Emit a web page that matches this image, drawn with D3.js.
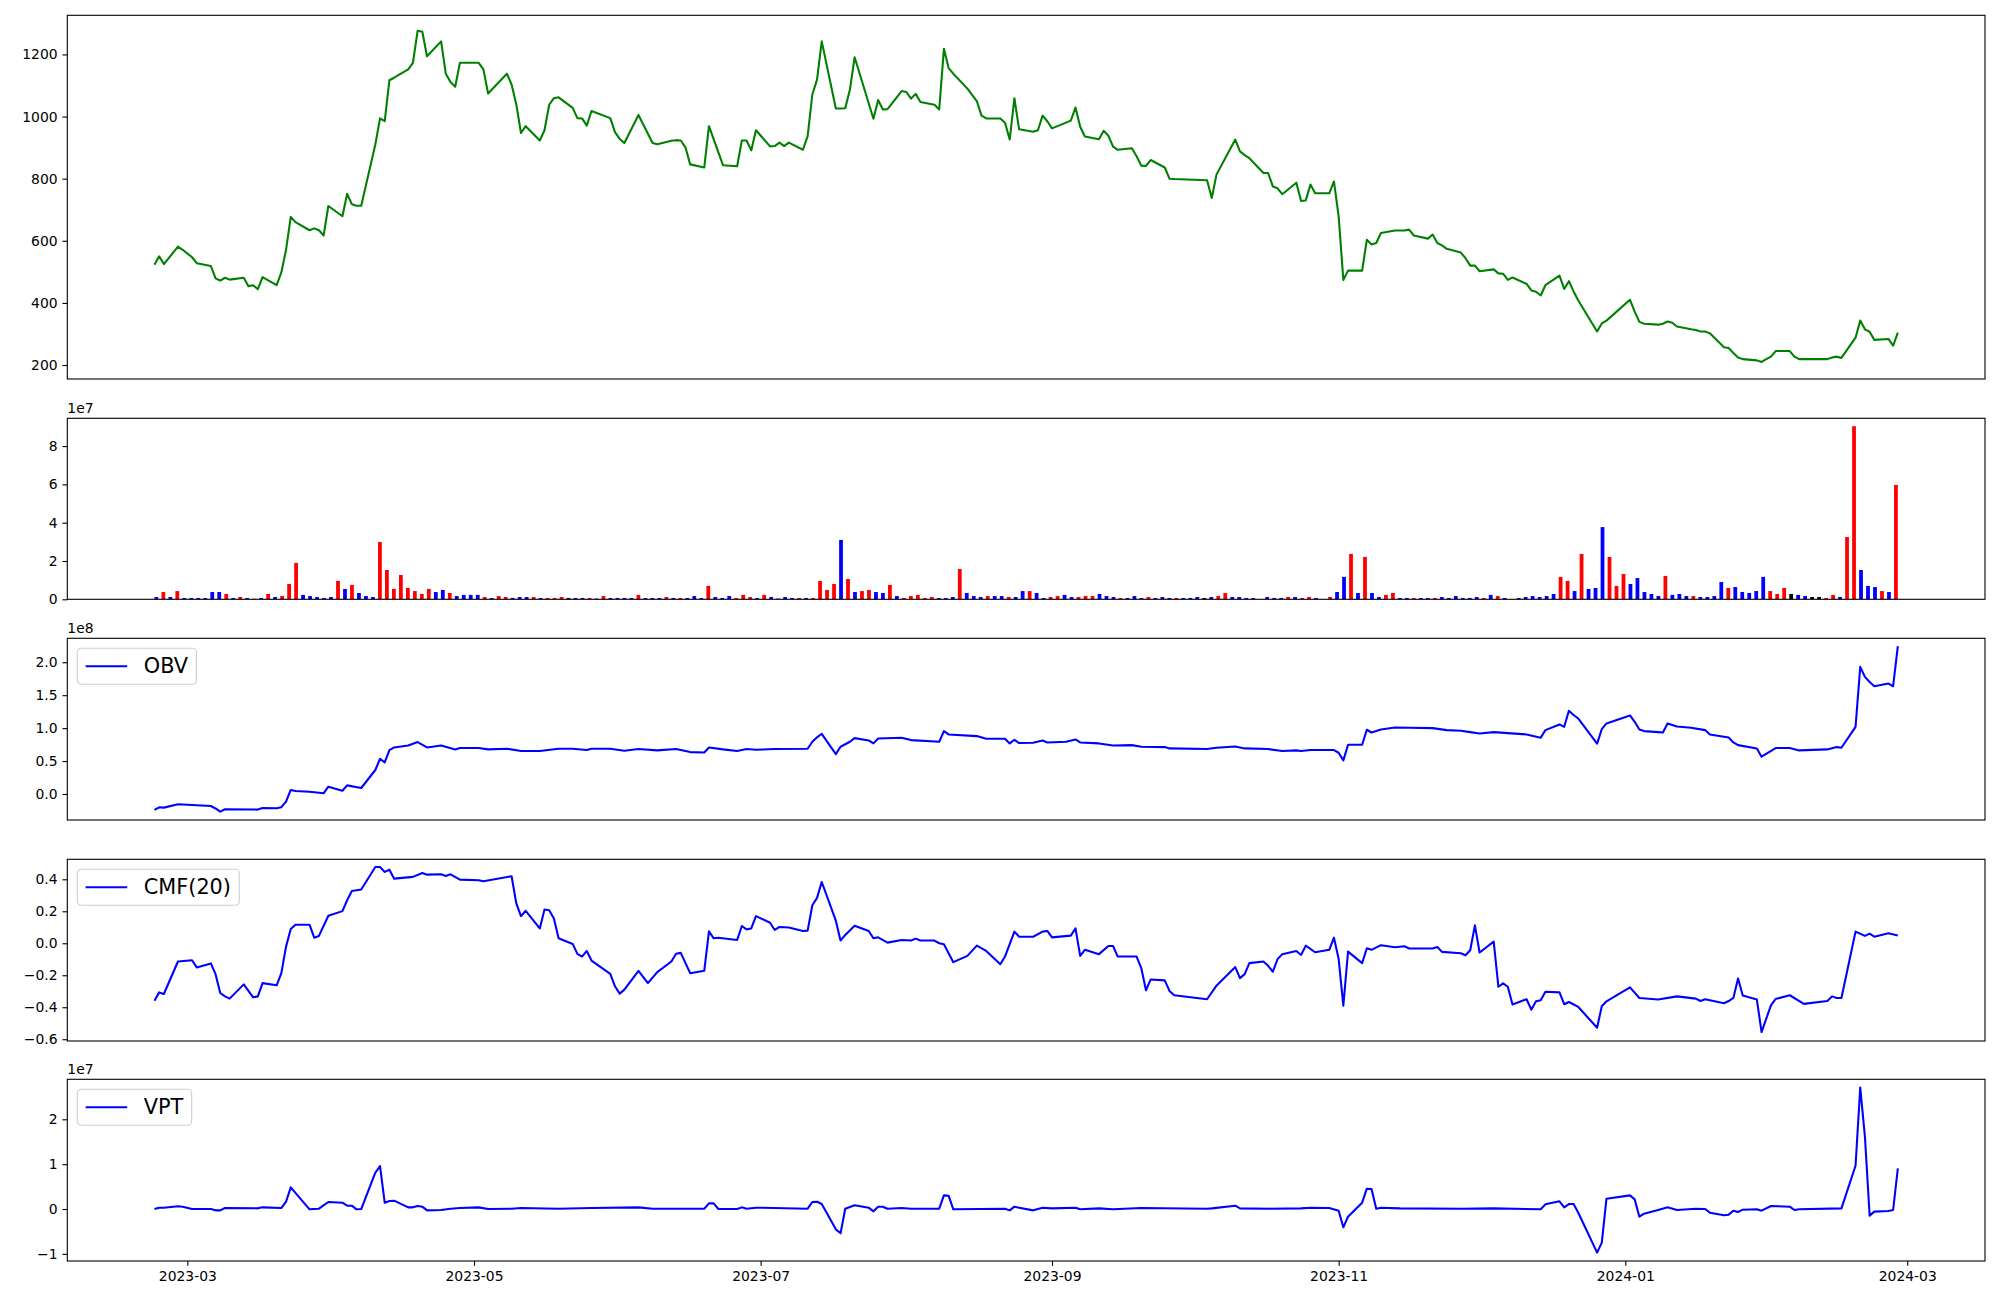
<!DOCTYPE html>
<html><head><meta charset="utf-8">
<script src="https://cdn.jsdelivr.net/npm/d3@7"></script>
<style>
body{margin:0;background:#fff}
text{font-family:"DejaVu Sans",sans-serif}
</style>
</head><body>
<svg id="chart" width="2000" height="1300"></svg>
<script>
// ---------------- DATA ----------------
const firstDay = "2023-02-22";
const lastDay = "2024-02-28";

// daily volume, in units of 1e7 (one value per trading session, in order; 250 sessions)
const volume = [
 .12,.38,.12,.43,.07,.07,.07,.07,.38,.38,
 .28,.07,.12,.07,.03,.07,.28,.12,.17,.8,
 1.9,.23,.17,.12,.07,.12,.96,.54,.75,.33,
 .17,.12,2.99,1.53,.54,1.27,.59,.43,.28,.54,
 .38,.49,.33,.17,.23,.23,.23,.12,.07,.17,
 .12,.07,.12,.12,.12,.07,.07,.07,.12,.07,
 .07,.07,.07,.04,.17,.07,.07,.07,.07,.23,
 .07,.07,.07,.12,.07,.07,.07,.17,.07,.7,
 .12,.07,.17,.07,.23,.12,.07,.23,.12,.04,
 .12,.07,.07,.07,.07,.96,.49,.8,3.1,1.06,
 .38,.43,.49,.38,.33,.75,.17,.07,.17,.23,
 .07,.12,.07,.07,.12,1.58,.33,.17,.12,.17,
 .17,.17,.12,.12,
 .43,.43,.33,.07,.12,.17,.23,.12,.12,.17,
 .17,.28,.17,.12,.07,.07,.17,.07,.12,.07,
 .12,.07,.07,.07,.07,.12,.07,.12,.17,.33,
 .12,.12,.07,.07,.01,
 .12,.07,.07,.12,.12,.07,.12,.07,.01,
 .12,.38,1.17,2.37,.33,2.21,.33,.12,
 .23,.33,.07,.07,.07,.07,.07,.07,.12,.07,
 .17,.07,.07,.12,.07,.23,.17,.07,.01,
 .07,.12,
 .17,.12,.17,.28,1.17,.96,.43,2.37,.54,.59,
 3.77,2.21,.7,1.32,.8,1.11,.38,.28,.17,1.22,
 .23,.28,.17,.17,.12,.12,.17,.9,.59,.64,
 .38,.33,.43,1.17,.43,.28,.59,.28,.23,.17,
 .12,.12,.07,.23,.12,3.25,9.04,1.53,.7,.64,
 .43,.38,5.97
];
// r = close up, b = close down, k = unchanged
const volumeDir = (
 "brbrbbbbbb"+"rbrbrbrbrr"+"rbbbbbrbrb"+"bbrrrrrrrr"+"bbrbbbbrbr"+
 "rbbbrbrrrk"+"bbrbrbbbbr"+"bbbrbrbbbr"+"bbbrrrbrbb"+"bbrbrrrrbr"+
 "brrbbrbrrr"+"rrbbbrbbbr"+"bbrb"+
 "brbbrrbbrr"+"rbbbrbbbrb"+"bbrbbbkbrr"+"bbbbb"+
 "bbbrbrrbb"+
 "rbbrbrbb"+"rrbbrbbrbb"+"bbbbrbrbb"+
 "bb"+"bbbbrrbrbb"+"brrrbbbbbr"+"bbbrbbbbrb"+"bbbbrrrkbb"+"kkrrbrrbbb"+"rbr").split("");

// close price
const price = [
["2023-02-22",523],["2023-02-23",550],["2023-02-24",525],["2023-02-27",581],["2023-02-28",571],
["2023-03-02",547],["2023-03-03",528],["2023-03-06",519],["2023-03-07",479],["2023-03-08",472],
["2023-03-09",481],["2023-03-10",475],["2023-03-13",481],["2023-03-14",454],["2023-03-15",457],
["2023-03-16",444],["2023-03-17",483],["2023-03-20",457],["2023-03-21",498],["2023-03-22",571],
["2023-03-23",677],["2023-03-24",660],["2023-03-27",634],["2023-03-28",640],["2023-03-29",634],
["2023-03-30",617],["2023-03-31",712],["2023-04-03",679],["2023-04-04",751],["2023-04-05",718],
["2023-04-06",713],["2023-04-07",713],["2023-04-10",910],["2023-04-11",994],["2023-04-12",985],
["2023-04-13",1117],["2023-04-14",1125],["2023-04-17",1152],["2023-04-18",1173],["2023-04-19",1276],
["2023-04-20",1273],["2023-04-21",1194],["2023-04-24",1242],["2023-04-25",1138],["2023-04-26",1111],
["2023-04-27",1096],["2023-04-28",1173],["2023-05-02",1173],["2023-05-03",1152],["2023-05-04",1074],
["2023-05-08",1138],["2023-05-09",1103],["2023-05-10",1039],["2023-05-11",947],["2023-05-12",969],
["2023-05-15",923],["2023-05-16",956],["2023-05-17",1038],["2023-05-18",1059],["2023-05-19",1062],
["2023-05-22",1028],["2023-05-23",995],["2023-05-24",994],["2023-05-25",971],["2023-05-26",1018],
["2023-05-30",995],["2023-05-31",950],["2023-06-01",928],["2023-06-02",915],["2023-06-05",1005],
["2023-06-08",915],["2023-06-09",911],["2023-06-12",922],["2023-06-13",924],["2023-06-14",923],
["2023-06-15",901],["2023-06-16",846],["2023-06-19",836],["2023-06-20",969],["2023-06-23",843],
["2023-06-26",840],["2023-06-27",923],["2023-06-28",923],["2023-06-29",891],["2023-06-30",956],
["2023-07-03",904],["2023-07-04",905],["2023-07-05",916],["2023-07-06",905],["2023-07-07",916],
["2023-07-10",893],["2023-07-11",937],["2023-07-12",1071],["2023-07-13",1119],["2023-07-14",1242],
["2023-07-17",1026],["2023-07-18",1026],["2023-07-19",1027],["2023-07-20",1087],["2023-07-21",1191],
["2023-07-25",993],["2023-07-26",1053],["2023-07-27",1023],["2023-07-28",1024],["2023-07-31",1082],
["2023-08-01",1079],["2023-08-02",1058],["2023-08-03",1073],["2023-08-04",1047],["2023-08-07",1038],
["2023-08-08",1023],["2023-08-09",1218],["2023-08-10",1156],["2023-08-11",1138],["2023-08-14",1090],
["2023-08-16",1050],["2023-08-17",1003],["2023-08-18",994],["2023-08-21",994],["2023-08-22",980],
["2023-08-23",926],["2023-08-24",1059],["2023-08-25",959],["2023-08-28",951],["2023-08-29",956],
["2023-08-30",1003],["2023-08-31",985],["2023-09-01",962],["2023-09-05",987],["2023-09-06",1029],
["2023-09-07",967],["2023-09-08",936],["2023-09-11",927],["2023-09-12",954],["2023-09-13",938],
["2023-09-14",903],["2023-09-15",893],["2023-09-18",898],["2023-09-19",872],["2023-09-20",842],
["2023-09-21",841],["2023-09-22",860],["2023-09-25",836],["2023-09-26",800],["2023-09-27",799],
["2023-10-04",795],["2023-10-05",738],["2023-10-06",813],["2023-10-10",926],["2023-10-11",888],
["2023-10-12",876],["2023-10-13",866],["2023-10-16",818],["2023-10-17",818],["2023-10-18",775],
["2023-10-19",769],["2023-10-20",750],["2023-10-23",787],["2023-10-24",728],["2023-10-25",730],
["2023-10-26",781],["2023-10-27",753],["2023-10-30",753],["2023-10-31",791],["2023-11-01",679],
["2023-11-02",474],["2023-11-03",504],["2023-11-06",504],["2023-11-07",603],["2023-11-08",588],
["2023-11-09",593],["2023-11-10",625],["2023-11-13",633],["2023-11-14",633],["2023-11-15",633],
["2023-11-16",636],["2023-11-17",617],["2023-11-20",607],["2023-11-21",620],["2023-11-22",593],
["2023-11-23",585],["2023-11-24",574],["2023-11-27",562],["2023-11-28",544],["2023-11-29",520],
["2023-11-30",520],["2023-12-01",502],["2023-12-04",508],["2023-12-05",495],["2023-12-06",494],
["2023-12-07",474],["2023-12-08",482],["2023-12-11",461],["2023-12-12",440],["2023-12-13",436],
["2023-12-14",424],["2023-12-15",457],["2023-12-18",488],["2023-12-19",445],["2023-12-20",470],
["2023-12-21",437],["2023-12-22",408],["2023-12-26",308],["2023-12-27",334],["2023-12-28",343],
["2024-01-02",410],["2024-01-03",372],["2024-01-04",339],["2024-01-05",333],["2024-01-08",330],
["2024-01-09",333],["2024-01-10",340],["2024-01-11",336],["2024-01-12",324],["2024-01-15",315],
["2024-01-16",313],["2024-01-17",308],["2024-01-18",308],["2024-01-19",302],["2024-01-22",257],
["2024-01-23",255],["2024-01-24",239],["2024-01-25",224],["2024-01-26",219],["2024-01-29",215],
["2024-01-30",210],["2024-01-31",219],["2024-02-01",227],["2024-02-02",245],["2024-02-05",245],
["2024-02-06",227],["2024-02-07",219],["2024-02-08",219],["2024-02-13",219],["2024-02-14",224],
["2024-02-15",227],["2024-02-16",223],["2024-02-19",288],["2024-02-20",343],["2024-02-21",315],
["2024-02-22",307],["2024-02-23",281],["2024-02-26",284],["2024-02-27",262],["2024-02-28",304]
];

// On-Balance Volume, units of 1e8
const obv = [
["2023-02-22",-0.242],["2023-02-23",-0.202],["2023-02-24",-0.207],["2023-02-27",-0.157],["2023-03-06",-0.182],
["2023-03-07",-0.22],["2023-03-08",-0.268],["2023-03-09",-0.232],["2023-03-16",-0.237],["2023-03-17",-0.212],
["2023-03-20",-0.217],["2023-03-21",-0.20],["2023-03-22",-0.116],["2023-03-23",0.061],["2023-03-24",0.045],
["2023-03-27",0.035],["2023-03-30",0.010],["2023-03-31",0.111],["2023-04-03",0.05],["2023-04-04",0.131],
["2023-04-07",0.091],["2023-04-10",0.364],["2023-04-11",0.535],["2023-04-12",0.48],["2023-04-13",0.667],
["2023-04-14",0.707],["2023-04-17",0.737],["2023-04-19",0.788],["2023-04-21",0.707],["2023-04-24",0.737],
["2023-04-27",0.677],["2023-04-28",0.697],["2023-05-02",0.697],["2023-05-04",0.677],["2023-05-08",0.687],
["2023-05-11",0.652],["2023-05-15",0.652],["2023-05-19",0.687],["2023-05-22",0.687],["2023-05-25",0.667],
["2023-05-26",0.687],["2023-05-30",0.687],["2023-06-02",0.657],["2023-06-05",0.682],["2023-06-09",0.662],
["2023-06-13",0.682],["2023-06-16",0.636],["2023-06-19",0.631],["2023-06-20",0.707],["2023-06-23",0.677],
["2023-06-26",0.652],["2023-06-28",0.682],["2023-06-30",0.672],["2023-07-04",0.682],["2023-07-11",0.687],
["2023-07-12",0.793],["2023-07-13",0.86],["2023-07-14",0.914],["2023-07-17",0.606],["2023-07-18",0.717],
["2023-07-20",0.793],["2023-07-21",0.848],["2023-07-24",0.813],["2023-07-25",0.768],["2023-07-26",0.843],
["2023-07-31",0.854],["2023-08-02",0.818],["2023-08-08",0.793],["2023-08-09",0.955],["2023-08-10",0.904],
["2023-08-16",0.879],["2023-08-18",0.838],["2023-08-22",0.838],["2023-08-23",0.768],["2023-08-24",0.823],
["2023-08-25",0.773],["2023-08-28",0.778],["2023-08-30",0.813],["2023-08-31",0.783],["2023-09-04",0.793],
["2023-09-06",0.828],["2023-09-07",0.783],["2023-09-11",0.768],["2023-09-14",0.737],["2023-09-18",0.742],
["2023-09-20",0.717],["2023-09-25",0.712],["2023-09-26",0.692],["2023-10-04",0.682],["2023-10-06",0.702],
["2023-10-10",0.722],["2023-10-12",0.692],["2023-10-17",0.682],["2023-10-20",0.652],["2023-10-23",0.662],
["2023-10-24",0.652],["2023-10-26",0.667],["2023-10-31",0.667],["2023-11-01",0.626],["2023-11-02",0.510],
["2023-11-03",0.747],["2023-11-06",0.747],["2023-11-07",0.975],["2023-11-08",0.934],["2023-11-10",0.98],
["2023-11-13",1.01],["2023-11-16",1.005],["2023-11-21",1.0],["2023-11-24",0.97],["2023-11-27",0.96],
["2023-11-29",0.939],["2023-12-01",0.919],["2023-12-04",0.939],["2023-12-07",0.924],["2023-12-11",0.904],
["2023-12-14",0.854],["2023-12-15",0.97],["2023-12-18",1.056],["2023-12-19",1.02],["2023-12-20",1.263],
["2023-12-21",1.2],["2023-12-22",1.146],["2023-12-26",0.763],["2023-12-27",0.985],["2023-12-28",1.071],
["2024-01-02",1.192],["2024-01-03",1.096],["2024-01-04",0.98],["2024-01-05",0.955],["2024-01-08",0.939],
["2024-01-09",0.934],["2024-01-10",1.071],["2024-01-12",1.025],["2024-01-15",1.005],["2024-01-18",0.97],
["2024-01-19",0.904],["2024-01-23",0.859],["2024-01-24",0.783],["2024-01-25",0.742],["2024-01-29",0.692],
["2024-01-30",0.566],["2024-02-02",0.697],["2024-02-05",0.697],["2024-02-07",0.662],["2024-02-13",0.677],
["2024-02-15",0.712],["2024-02-16",0.702],["2024-02-19",1.02],["2024-02-20",1.93],["2024-02-21",1.778],
["2024-02-22",1.70],["2024-02-23",1.636],["2024-02-26",1.677],["2024-02-27",1.636],["2024-02-28",2.247]
];

// Chaikin Money Flow (20)
const cmf = [
["2023-02-22",-0.359],["2023-02-23",-0.307],["2023-02-24",-0.317],["2023-02-27",-0.114],["2023-03-02",-0.106],
["2023-03-03",-0.151],["2023-03-06",-0.126],["2023-03-07",-0.193],["2023-03-08",-0.311],["2023-03-09",-0.332],
["2023-03-10",-0.346],["2023-03-13",-0.257],["2023-03-15",-0.338],["2023-03-16",-0.332],["2023-03-17",-0.249],
["2023-03-20",-0.263],["2023-03-21",-0.187],["2023-03-22",-0.021],["2023-03-23",0.089],["2023-03-24",0.116],
["2023-03-27",0.116],["2023-03-28",0.035],["2023-03-29",0.046],["2023-03-31",0.172],["2023-04-03",0.201],
["2023-04-04",0.269],["2023-04-05",0.327],["2023-04-07",0.336],["2023-04-10",0.477],["2023-04-11",0.477],
["2023-04-12",0.446],["2023-04-13",0.46],["2023-04-14",0.404],["2023-04-18",0.415],["2023-04-20",0.439],
["2023-04-21",0.429],["2023-04-24",0.431],["2023-04-25",0.421],["2023-04-26",0.431],["2023-04-28",0.398],
["2023-05-02",0.394],["2023-05-03",0.388],["2023-05-09",0.419],["2023-05-10",0.249],["2023-05-11",0.17],
["2023-05-12",0.203],["2023-05-15",0.093],["2023-05-16",0.211],["2023-05-17",0.207],["2023-05-18",0.155],
["2023-05-19",0.031],["2023-05-22",-0.004],["2023-05-23",-0.066],["2023-05-24",-0.083],["2023-05-25",-0.048],
["2023-05-26",-0.108],["2023-05-30",-0.191],["2023-05-31",-0.269],["2023-06-01",-0.315],["2023-06-02",-0.29],
["2023-06-05",-0.172],["2023-06-07",-0.249],["2023-06-09",-0.18],["2023-06-12",-0.114],["2023-06-13",-0.066],
["2023-06-14",-0.06],["2023-06-16",-0.187],["2023-06-19",-0.172],["2023-06-20",0.075],["2023-06-21",0.031],
["2023-06-22",0.035],["2023-06-26",0.021],["2023-06-27",0.108],["2023-06-28",0.087],["2023-06-29",0.093],
["2023-06-30",0.17],["2023-07-03",0.128],["2023-07-04",0.083],["2023-07-05",0.102],["2023-07-07",0.099],
["2023-07-10",0.077],["2023-07-11",0.079],["2023-07-12",0.238],["2023-07-13",0.284],["2023-07-14",0.383],
["2023-07-17",0.141],["2023-07-18",0.017],["2023-07-19",0.052],["2023-07-21",0.11],["2023-07-24",0.077],
["2023-07-25",0.031],["2023-07-26",0.037],["2023-07-28",0.004],["2023-07-31",0.021],["2023-08-02",0.017],
["2023-08-03",0.029],["2023-08-04",0.017],["2023-08-07",0.017],["2023-08-08",0.0],["2023-08-09",-0.006],
["2023-08-11",-0.118],["2023-08-14",-0.079],["2023-08-16",-0.015],["2023-08-18",-0.048],["2023-08-21",-0.131],
["2023-08-22",-0.083],["2023-08-24",0.073],["2023-08-25",0.041],["2023-08-28",0.041],["2023-08-30",0.073],
["2023-08-31",0.077],["2023-09-01",0.037],["2023-09-05",0.048],["2023-09-06",0.093],["2023-09-07",-0.079],
["2023-09-08",-0.041],["2023-09-11",-0.068],["2023-09-13",-0.017],["2023-09-14",-0.017],["2023-09-15",-0.083],
["2023-09-19",-0.083],["2023-09-20",-0.155],["2023-09-21",-0.294],["2023-09-22",-0.226],["2023-09-25",-0.232],
["2023-09-26",-0.298],["2023-09-27",-0.325],["2023-10-04",-0.35],["2023-10-06",-0.265],["2023-10-10",-0.149],
["2023-10-11",-0.218],["2023-10-12",-0.193],["2023-10-13",-0.124],["2023-10-16",-0.114],["2023-10-17",-0.141],
["2023-10-18",-0.178],["2023-10-19",-0.099],["2023-10-20",-0.068],["2023-10-23",-0.048],["2023-10-24",-0.073],
["2023-10-25",-0.015],["2023-10-27",-0.056],["2023-10-30",-0.041],["2023-10-31",0.035],["2023-11-01",-0.097],
["2023-11-02",-0.39],["2023-11-03",-0.052],["2023-11-06",-0.124],["2023-11-07",-0.031],["2023-11-08",-0.041],
["2023-11-10",-0.012],["2023-11-13",-0.025],["2023-11-15",-0.019],["2023-11-16",-0.033],["2023-11-21",-0.033],
["2023-11-22",-0.023],["2023-11-23",-0.054],["2023-11-27",-0.062],["2023-11-28",-0.075],["2023-11-29",-0.044],
["2023-11-30",0.112],["2023-12-01",-0.058],["2023-12-04",0.01],["2023-12-05",-0.272],["2023-12-06",-0.251],
["2023-12-07",-0.272],["2023-12-08",-0.383],["2023-12-11",-0.35],["2023-12-12",-0.415],["2023-12-13",-0.363],
["2023-12-14",-0.356],["2023-12-15",-0.303],["2023-12-18",-0.307],["2023-12-19",-0.381],["2023-12-20",-0.367],
["2023-12-22",-0.398],["2023-12-26",-0.528],["2023-12-27",-0.394],["2023-12-28",-0.363],["2024-01-02",-0.276],
["2024-01-04",-0.342],["2024-01-08",-0.352],["2024-01-12",-0.332],["2024-01-16",-0.346],["2024-01-17",-0.361],
["2024-01-18",-0.35],["2024-01-22",-0.375],["2024-01-23",-0.361],["2024-01-24",-0.342],["2024-01-25",-0.22],
["2024-01-26",-0.327],["2024-01-29",-0.352],["2024-01-30",-0.555],["2024-02-01",-0.388],["2024-02-02",-0.348],
["2024-02-05",-0.325],["2024-02-08",-0.379],["2024-02-13",-0.361],["2024-02-14",-0.332],["2024-02-15",-0.342],
["2024-02-16",-0.342],["2024-02-19",0.073],["2024-02-21",0.046],["2024-02-22",0.06],["2024-02-23",0.041],
["2024-02-26",0.062],["2024-02-28",0.048]
];

// Volume Price Trend, units of 1e7
const vpt = [
["2023-02-22",0.0],["2023-02-23",0.03],["2023-02-24",0.03],["2023-02-27",0.06],["2023-02-28",0.052],
["2023-03-02",0.0],["2023-03-06",0.0],["2023-03-07",-0.03],["2023-03-08",-0.03],["2023-03-09",0.022],
["2023-03-16",0.015],["2023-03-17",0.037],["2023-03-21",0.022],["2023-03-22",0.163],["2023-03-23",0.483],
["2023-03-27",-0.007],["2023-03-29",0.007],["2023-03-31",0.156],["2023-04-03",0.141],["2023-04-04",0.074],
["2023-04-05",0.074],["2023-04-06",-0.007],["2023-04-07",0.0],["2023-04-10",0.809],["2023-04-11",0.958],
["2023-04-12",0.141],["2023-04-13",0.178],["2023-04-14",0.186],["2023-04-17",0.037],["2023-04-18",0.037],
["2023-04-19",0.067],["2023-04-20",0.052],["2023-04-21",-0.03],["2023-04-24",-0.022],["2023-04-26",0.007],
["2023-04-28",0.022],["2023-05-02",0.037],["2023-05-04",0.0],["2023-05-09",0.007],["2023-05-11",0.022],
["2023-05-19",0.007],["2023-05-26",0.022],["2023-06-05",0.037],["2023-06-08",0.007],["2023-06-19",0.007],
["2023-06-20",0.126],["2023-06-21",0.126],["2023-06-22",0.0],["2023-06-26",0.0],["2023-06-27",0.037],
["2023-06-28",0.007],["2023-06-30",0.03],["2023-07-11",0.007],["2023-07-12",0.156],["2023-07-13",0.163],
["2023-07-14",0.111],["2023-07-17",-0.453],["2023-07-18",-0.542],["2023-07-19",0.007],["2023-07-21",0.082],
["2023-07-24",0.03],["2023-07-25",-0.052],["2023-07-26",0.052],["2023-07-27",0.052],["2023-07-28",0.007],
["2023-07-31",0.022],["2023-08-02",0.007],["2023-08-08",0.007],["2023-08-09",0.304],["2023-08-10",0.297],
["2023-08-11",-0.007],["2023-08-22",0.007],["2023-08-23",-0.03],["2023-08-24",0.052],["2023-08-25",0.03],
["2023-08-28",-0.03],["2023-08-30",0.03],["2023-09-01",0.015],["2023-09-06",0.03],["2023-09-07",-0.007],
["2023-09-11",0.015],["2023-09-14",-0.007],["2023-09-20",0.022],["2023-10-04",0.007],["2023-10-05",0.015],
["2023-10-10",0.074],["2023-10-11",0.015],["2023-10-17",0.007],["2023-10-24",0.015],["2023-10-26",0.03],
["2023-10-30",0.022],["2023-11-01",-0.037],["2023-11-02",-0.408],["2023-11-03",-0.171],["2023-11-06",0.141],
["2023-11-07",0.453],["2023-11-08",0.445],["2023-11-09",0.007],["2023-11-10",0.03],["2023-11-14",0.015],
["2023-11-27",0.007],["2023-12-04",0.015],["2023-12-14",-0.007],["2023-12-15",0.104],["2023-12-18",0.171],
["2023-12-19",0.037],["2023-12-20",0.111],["2023-12-21",0.111],["2023-12-22",-0.082],["2023-12-26",-0.973],
["2023-12-27",-0.75],["2023-12-28",0.23],["2024-01-02",0.304],["2024-01-03",0.215],["2024-01-04",-0.171],
["2024-01-05",-0.104],["2024-01-08",-0.022],["2024-01-10",0.037],["2024-01-12",-0.022],["2024-01-16",0.007],
["2024-01-18",0.0],["2024-01-19",-0.082],["2024-01-22",-0.141],["2024-01-23",-0.126],["2024-01-24",-0.037],
["2024-01-25",-0.067],["2024-01-26",-0.015],["2024-01-29",-0.007],["2024-01-30",-0.037],["2024-02-01",0.067],
["2024-02-05",0.052],["2024-02-06",-0.022],["2024-02-07",-0.007],["2024-02-16",0.015],["2024-02-19",0.965],
["2024-02-20",2.71],["2024-02-21",1.61],["2024-02-22",-0.148],["2024-02-23",-0.059],["2024-02-26",-0.045],
["2024-02-27",-0.022],["2024-02-28",0.906]
];

const xTickDates = ["2023-03-01","2023-05-01","2023-07-01","2023-09-01","2023-11-01","2024-01-01","2024-03-01"];
const priceTicks = [200,400,600,800,1000,1200];
const volumeTicks = [0,2,4,6,8];
const obvTicks = [0,0.5,1.0,1.5,2.0];
const cmfTicks = [-0.6,-0.4,-0.2,0.0,0.2,0.4];
const vptTicks = [-1,0,1,2];

// ---------------- DRAWING ----------------
const parse = d3.utcParse("%Y-%m-%d");
const svg = d3.select("#chart");
svg.append("rect").attr("width",2000).attr("height",1300).attr("fill","#fff");

const L = 67.3, R = 1985;
const d0 = parse(firstDay), d1 = parse(lastDay);
const spanMs = d1 - d0;
const x = d3.scaleUtc()
  .domain([new Date(+d0 - spanMs*0.05), new Date(+d1 + spanMs*0.05)])
  .range([L, R]);

// volume panel is drawn against the session index (0..N-1) with 5% margins
const N = volume.length, BAR_W = 0.54;
const idxSpan = (N - 1) + BAR_W;
const xi = d3.scaleLinear()
  .domain([-BAR_W/2 - 0.05*idxSpan, N - 1 + BAR_W/2 + 0.05*idxSpan])
  .range([L, R]);

const FS = 13.9, TICK = 4.86, LW = 2.08;
const panels = [
  {top:15.3, bottom:379, dom:[155,1326], ticks:priceTicks, fmt:d3.format("d")},
  {top:418.3, bottom:599.3, dom:[0,9.45], ticks:volumeTicks, fmt:d3.format("d"), offset:"1e7"},
  {top:638.3, bottom:820, dom:[-0.395,2.364], ticks:obvTicks, fmt:d3.format(".1f"), offset:"1e8", legend:"OBV"},
  {top:859.3, bottom:1041, dom:[-0.611,0.525], ticks:cmfTicks, fmt:d3.format(".1f"), legend:"CMF(20)"},
  {top:1079.3, bottom:1261, dom:[-1.159,2.892], ticks:vptTicks, fmt:d3.format("d"), offset:"1e7", legend:"VPT"}
];
panels.forEach(p => { p.y = d3.scaleLinear().domain(p.dom).range([p.bottom, p.top]); });

function yAxis(p){
  const g = svg.append("g").attr("transform",`translate(${L},0)`)
    .call(d3.axisLeft(p.y).tickValues(p.ticks).tickFormat(p.fmt).tickSize(TICK).tickPadding(TICK));
  g.select(".domain").remove();
  g.selectAll("line").attr("stroke","#000").attr("stroke-width",1.1);
  g.selectAll("text").attr("font-size",FS).attr("fill","#000").attr("font-family","DejaVu Sans");
  if (p.offset) {
    svg.append("text").attr("x",L).attr("y",p.top-5).attr("font-size",FS).text(p.offset);
  }
}
function frame(p){
  svg.append("rect").attr("x",L).attr("y",p.top).attr("width",R-L).attr("height",p.bottom-p.top)
    .attr("fill","none").attr("stroke","#000").attr("stroke-width",1.1);
}
function drawLine(p, data, color){
  const line = d3.line().x(d=>x(parse(d[0]))).y(d=>p.y(d[1]));
  svg.append("path").datum(data).attr("d",line).attr("fill","none")
    .attr("stroke",color).attr("stroke-width",LW).attr("stroke-linejoin","round");
}
function legend(p, label){
  const f = 20.8;
  const pad = 0.4*f, hl = 2*f, tp = 0.8*f;
  const g = svg.append("g").attr("transform",`translate(${L+10},${p.top+10})`);
  const box = g.append("rect").attr("rx",4).attr("ry",4).attr("fill","#fff").attr("fill-opacity",0.8)
    .attr("stroke","#d0d0d0").attr("stroke-width",1.1);
  const t = g.append("text").attr("x",pad+hl+tp).attr("y",18).attr("dominant-baseline","central")
    .attr("font-size",f).attr("fill","#000").text(label);
  const tw = t.node().getComputedTextLength();
  box.attr("width",pad+hl+tp+tw+pad).attr("height",36);
  g.append("line").attr("x1",pad).attr("x2",pad+hl).attr("y1",18).attr("y2",18)
    .attr("stroke","#0000ff").attr("stroke-width",LW);
}

// panel 1: price
drawLine(panels[0], price, "#008000");
// panel 2: volume bars
const colorOf = {r:"#ff0000", b:"#0000ff", k:"#000000"};
const pv = panels[1];
svg.append("g").selectAll("rect").data(volume).join("rect")
  .attr("x", (v,i) => xi(i - BAR_W/2))
  .attr("width", (v,i) => xi(i + BAR_W/2) - xi(i - BAR_W/2))
  .attr("y", v => pv.y(v))
  .attr("height", v => pv.y(0) - pv.y(v))
  .attr("fill", (v,i) => colorOf[volumeDir[i]] || "#0000ff");
// indicators
drawLine(panels[2], obv, "#0000ff");
drawLine(panels[3], cmf, "#0000ff");
drawLine(panels[4], vpt, "#0000ff");

panels.forEach(p => { frame(p); yAxis(p); if (p.legend) legend(p, p.legend); });

// bottom date axis
const last = panels[4];
const gx = svg.append("g").attr("transform",`translate(0,${last.bottom})`)
  .call(d3.axisBottom(x).tickValues(xTickDates.map(parse)).tickFormat(d3.utcFormat("%Y-%m"))
    .tickSize(TICK).tickPadding(TICK));
gx.select(".domain").remove();
gx.selectAll("line").attr("stroke","#000").attr("stroke-width",1.1);
gx.selectAll("text").attr("font-size",FS).attr("fill","#000").attr("font-family","DejaVu Sans");
</script>
</body></html>
